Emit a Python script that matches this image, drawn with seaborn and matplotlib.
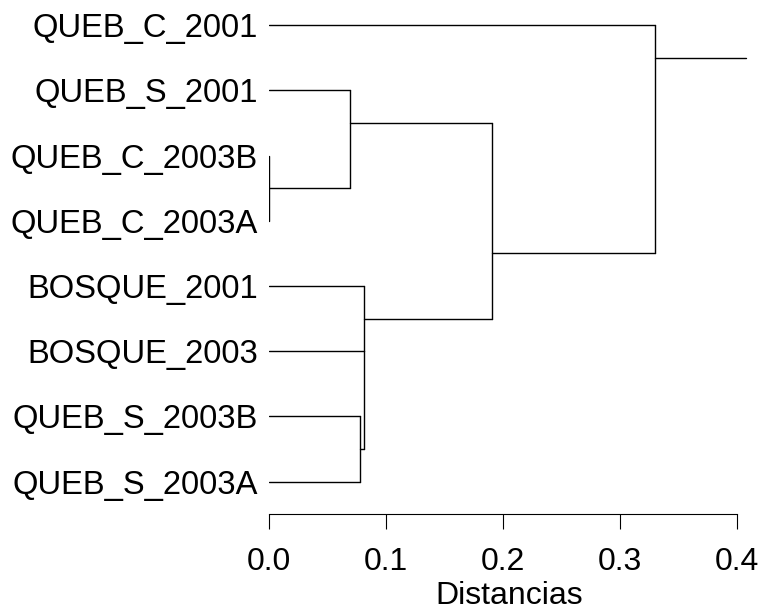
import matplotlib
matplotlib.use("Agg")
import matplotlib.pyplot as plt
import pandas as pd
import seaborn as sns

# Leaves, top to bottom
labels = ["QUEB_C_2001", "QUEB_S_2001", "QUEB_C_2003B", "QUEB_C_2003A",
          "BOSQUE_2001", "BOSQUE_2003", "QUEB_S_2003B", "QUEB_S_2003A"]

# Agglomeration steps: joined members, joining distance, row where the node's stem leaves
node_ids = ["n1", "n2", "n3", "n4", "n5", "n6", "n7"]
merge_left = ["QUEB_C_2003B", "QUEB_S_2001", "QUEB_S_2003B", "BOSQUE_2003",
              "BOSQUE_2001", "n2", "QUEB_C_2001"]
merge_right = ["QUEB_C_2003A", "n1", "QUEB_S_2003A", "n3", "n4", "n5", "n6"]
merge_height = [0.0, 0.0691, 0.0776, 0.0808, 0.0813, 0.1908, 0.3298]
merge_row = [3.5, 2.5, 7.5, 6.0, 5.5, 4.5, 1.5]
root_stem_end = 0.4077

xticks = [0.0, 0.1, 0.2, 0.3, 0.4]

# Build the segment table
row = {name: i + 1 for i, name in enumerate(labels)}
height = {name: 0.0 for name in labels}
for nid, r, h in zip(node_ids, merge_row, merge_height):
    row[nid] = r
    height[nid] = h

records = []
seg = 0
for nid, a, b in zip(node_ids, merge_left, merge_right):
    h = height[nid]
    # vertical join
    records += [(seg, h, row[a]), (seg, h, row[b])]
    seg += 1
    # stems from both children
    for child in (a, b):
        records += [(seg, height[child], row[child]), (seg, h, row[child])]
        seg += 1
# stem above the root
root = node_ids[-1]
records += [(seg, height[root], row[root]), (seg, root_stem_end, row[root])]

df = pd.DataFrame(records, columns=["seg", "dist", "row"])

sns.set_theme(style="white")
plt.rcParams["font.family"] = ["Liberation Sans", "DejaVu Sans"]

FS = 23
FS_LEAF = 23.6
W, H, DPI = 772, 611, 100
fig = plt.figure(figsize=(W / DPI, H / DPI), dpi=DPI)

x0_px, px_per_unit = 269.3, 1168.5
xmax = 0.41
left = x0_px / W
width = xmax * px_per_unit / W
y_top_px, y_bot_px = 2.2, 501.3
ax = fig.add_axes([left, 1 - y_bot_px / H, width, (y_bot_px - y_top_px) / H])

sns.lineplot(data=df, x="dist", y="row", units="seg", estimator=None,
             sort=False, color="black", linewidth=1.0, legend=False, ax=ax)

ax.set_xlim(0, xmax)
ax.set_ylim(8.3, 0.65)

ax.set_yticks(range(1, len(labels) + 1))
ax.set_yticklabels(labels)
ax.tick_params(axis="y", length=0, pad=8, labelsize=FS_LEAF, labelcolor="black")

ax.set_xticks(xticks)
ax.set_xticklabels([f"{t:.1f}" for t in xticks])
ax.tick_params(axis="x", direction="out", length=10.8, width=0.8,
               color="black", pad=12.5, bottom=True, labelsize=FS,
               labelcolor="black")
ax.set_xlabel("Distancias", fontsize=FS, color="black", labelpad=3)
ax.set_ylabel("")

for s in ("top", "right", "left"):
    ax.spines[s].set_visible(False)
ax.spines["bottom"].set_position(("outward", 9.4))
ax.spines["bottom"].set_bounds(0, 0.4)
ax.spines["bottom"].set_color("black")
ax.spines["bottom"].set_linewidth(0.8)
ax.set_facecolor("white")
fig.patch.set_facecolor("white")

fig.savefig("out.png", dpi=DPI)
